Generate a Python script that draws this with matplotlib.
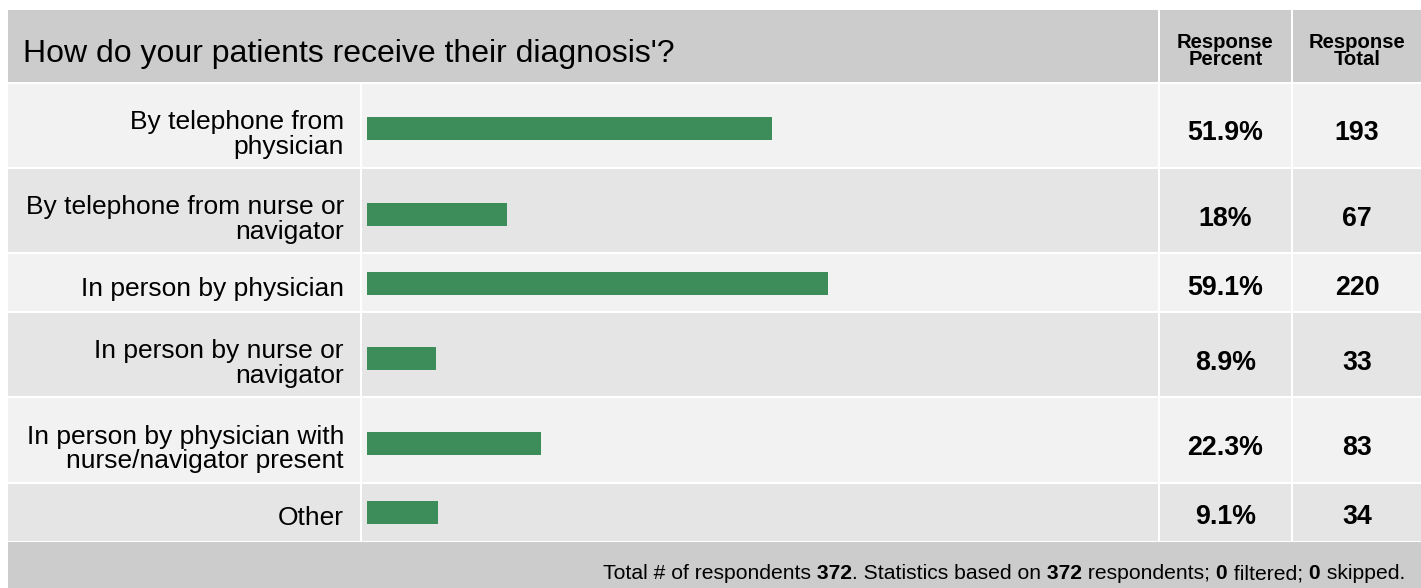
import matplotlib
matplotlib.use("Agg")
import matplotlib.pyplot as plt
from matplotlib.patches import Rectangle

plt.rcParams['font.family'] = ['Liberation Sans', 'DejaVu Sans']

# data
question = "How do your patients receive their diagnosis'?"
answers = [
    "By telephone from\nphysician",
    "By telephone from nurse or\nnavigator",
    "In person by physician",
    "In person by nurse or\nnavigator",
    "In person by physician with\nnurse/navigator present",
    "Other",
]
percents = [51.9, 18, 59.1, 8.9, 22.3, 9.1]
totals = [193, 67, 220, 33, 83, 34]
col_headers = ["Response\nPercent", "Response\nTotal"]
respondents = 372
filtered = 0
skipped = 0

# colours
HEAD = '#cccccc'
ROW_A = '#f2f2f2'
ROW_B = '#e5e5e5'
GREEN = '#3c8d59'

W, H = 1421, 588
fig = plt.figure(figsize=(W / 100, H / 100), dpi=100)
ax = fig.add_axes([0, 0, 1, 1])
ax.set_xlim(0, W)
ax.set_ylim(H, 0)
ax.axis('off')

# table columns (pixels): label | bars | percent | total
cols = [(8, 360), (362, 1158), (1160, 1291), (1293, W)]
gap = 1.8

# header
ax.add_patch(Rectangle((8, 10), 1158 - 8, 71.7, color=HEAD, lw=0))
for (x0, x1), txt in zip(cols[2:], col_headers):
    ax.add_patch(Rectangle((x0, 10), x1 - x0, 71.7, color=HEAD, lw=0))
    ax.text((x0 + x1) / 2, 51, txt, ha='center', va='center', fontsize=14.6,
            fontweight='bold', linespacing=0.92)
ax.text(23, 62, question, fontsize=23, va='baseline')

# rows
top = 81.7 + gap
centers = []
for i, (lab, p, n) in enumerate(zip(answers, percents, totals)):
    two = '\n' in lab
    h = 83.5 if two else 57
    bg = ROW_A if i % 2 == 0 else ROW_B
    for x0, x1 in cols:
        ax.add_patch(Rectangle((x0, top), x1 - x0, h, color=bg, lw=0))
    cy = top + h / 2 + (3.5 if two else 0.5)
    centers.append(cy)
    ax.text(344, cy + 5.5, lab, ha='right', va='center', fontsize=19, linespacing=1.04)
    ax.text(1225.5, cy + 4.5, f"{p:g}%", ha='center', va='center', fontsize=19.3,
            fontweight='bold')
    ax.text(1357, cy + 4.5, str(n), ha='center', va='center', fontsize=19.3,
            fontweight='bold')
    top += h + gap

# footer
ax.add_patch(Rectangle((8, top), W - 8, H - top, color=HEAD, lw=0))
pieces = [("Total # of respondents", "normal"), (f" {respondents}", "bold"),
          (". Statistics based on", "normal"), (f" {respondents}", "bold"),
          (" respondents;", "normal"), (f" {filtered}", "bold"),
          (" filtered;", "normal"), (f" {skipped}", "bold"), (" skipped.", "normal")]
prev = None
for txt, w in reversed(pieces):
    if prev is None:
        prev = ax.text(1405, 579, txt, ha='right', va='baseline', fontsize=15.2, fontweight=w)
    else:
        prev = ax.annotate(txt, xy=(0, 0), xycoords=prev, ha='right', va='bottom',
                           fontsize=15.2, fontweight=w)

# bars on their own percent scale
bax = fig.add_axes([367 / W, 0, 780 / W, 1])
bax.set_xlim(0, 100)
bax.set_ylim(H, 0)
bax.axis('off')
bax.barh(centers, percents, height=23, color=GREEN, lw=0)

fig.savefig('out.png', dpi=100)
